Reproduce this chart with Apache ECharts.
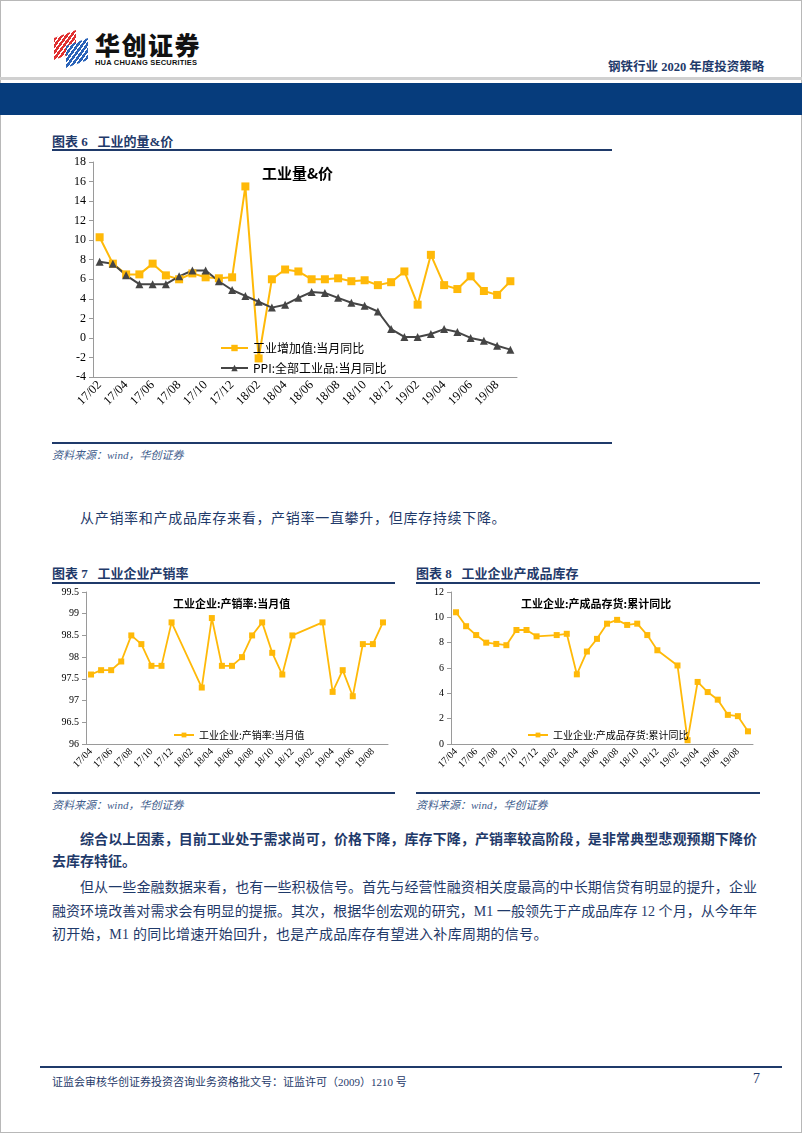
<!DOCTYPE html>
<html><head><meta charset="utf-8">
<script src="https://cdn.jsdelivr.net/npm/echarts/dist/echarts.min.js"></script>
<style>
body{margin:0;width:802px;height:1133px;position:relative;background:#fff;overflow:hidden;font-family:"Liberation Serif","Noto Sans CJK SC",serif;color:#1F3A6A;}
.abs{position:absolute;white-space:nowrap;}
.hline{position:absolute;height:2px;background:#1F3A6A;}
.cap{font-weight:bold;font-size:13px;}
.src{font-style:italic;font-size:11px;color:#3E5C8C;}
.p{font-size:14px;}
.just{text-align:justify;text-align-last:justify;}
</style></head>
<body>
<div style="position:absolute;left:0;top:0;width:800px;height:1131px;border:1px solid #b8b8b8;"></div>
<!-- logo -->
<div style="position:absolute;left:54px;top:34px;width:22px;height:22px;background:repeating-linear-gradient(135deg,#E03030 0 3px,#fff 3px 4.5px);transform:skewY(-20deg);"></div>
<div style="position:absolute;left:66px;top:42px;width:22px;height:22px;background:repeating-linear-gradient(135deg,#2A63B8 0 3px,#fff 3px 4.5px);transform:skewY(-20deg);"></div>
<div class="abs" style="left:95px;top:32px;line-height:1;font-family:'Noto Sans CJK SC';font-weight:900;font-size:25px;color:#111;letter-spacing:1.5px;">华创证券</div>
<div class="abs" style="left:95px;top:59px;line-height:1;font-family:'Liberation Sans';font-weight:bold;font-size:7.5px;color:#111;letter-spacing:0.2px;">HUA CHUANG SECURITIES</div>
<div class="abs" style="left:608px;top:56px;font-weight:bold;font-size:12.5px;color:#1F3A6A;">钢铁行业 2020 年度投资策略</div>
<div style="position:absolute;left:0;top:77px;width:802px;height:3px;background:#d0d0d0;"></div>
<div style="position:absolute;left:0;top:83px;width:802px;height:32px;background:#063C7C;"></div>

<!-- chart 6 -->
<div class="abs cap" style="left:52px;top:131px;">图表 6&nbsp;&nbsp;&nbsp;工业的量&amp;价</div>
<div class="hline" style="left:52px;top:149px;width:560px;"></div>
<div id="c1" style="position:absolute;left:40px;top:151px;width:580px;height:290px;"></div>
<div class="hline" style="left:52px;top:442px;width:560px;"></div>
<div class="abs src" style="left:52px;top:446px;">资料来源：wind，华创证券</div>

<div class="abs p" style="left:80px;top:507px;letter-spacing:0.7px;">从产销率和产成品库存来看，产销率一直攀升，但库存持续下降。</div>

<div class="abs cap" style="left:52px;top:563px;">图表 7&nbsp;&nbsp;&nbsp;工业企业产销率</div>
<div class="hline" style="left:52px;top:582px;width:343px;"></div>
<div class="abs cap" style="left:416px;top:563px;">图表 8&nbsp;&nbsp;&nbsp;工业企业产成品库存</div>
<div class="hline" style="left:416px;top:582px;width:344px;"></div>
<div id="c2" style="position:absolute;left:40px;top:584px;width:360px;height:205px;"></div>
<div id="c3" style="position:absolute;left:405px;top:584px;width:370px;height:205px;"></div>
<div class="hline" style="left:52px;top:792px;width:343px;"></div>
<div class="hline" style="left:416px;top:792px;width:344px;"></div>
<div class="abs src" style="left:52px;top:796px;">资料来源：wind，华创证券</div>
<div class="abs src" style="left:416px;top:796px;">资料来源：wind，华创证券</div>

<div class="abs p just" style="left:80px;top:828px;width:677px;font-weight:bold;">综合以上因素，目前工业处于需求尚可，价格下降，库存下降，产销率较高阶段，是非常典型悲观预期下降价</div>
<div class="abs p" style="left:52px;top:850px;font-weight:bold;">去库存特征。</div>
<div class="abs p just" style="left:80px;top:876px;width:677px;">但从一些金融数据来看，也有一些积极信号。首先与经营性融资相关度最高的中长期信贷有明显的提升，企业</div>
<div class="abs p just" style="left:52px;top:900px;width:705px;">融资环境改善对需求会有明显的提振。其次，根据华创宏观的研究，M1 一般领先于产成品库存 12 个月，从今年年</div>
<div class="abs p" style="left:52px;top:923px;letter-spacing:0.3px;">初开始，M1 的同比增速开始回升，也是产成品库存有望进入补库周期的信号。</div>

<div style="position:absolute;left:40px;top:1066px;width:742px;height:2px;background:#1F3A6A;"></div>
<div class="abs" style="left:52px;top:1073px;font-size:11px;color:#1F3A6A;">证监会审核华创证券投资咨询业务资格批文号：证监许可（2009）1210 号</div>
<div class="abs" style="left:753px;top:1071px;font-size:14px;color:#1F3A6A;">7</div>

<script>
// ---------- data ----------
const monthsC1 = ['17/02','17/03','17/04','17/05','17/06','17/07','17/08','17/09','17/10','17/11','17/12',
  '18/01','18/02','18/03','18/04','18/05','18/06','18/07','18/08','18/09','18/10','18/11','18/12',
  '19/01','19/02','19/03','19/04','19/05','19/06','19/07','19/08','19/09'];
const valueAddedYoY = [10.3,7.6,6.5,6.5,7.6,6.4,6.0,6.6,6.2,6.1,6.2,
  15.5,-2.1,6.0,7.0,6.8,6.0,6.0,6.1,5.8,5.9,5.4,5.7,
  6.8,3.4,8.5,5.4,5.0,6.3,4.8,4.4,5.8];
const ppiYoY = [7.8,7.6,6.4,5.5,5.5,5.5,6.3,6.9,6.9,5.8,4.9,
  4.3,3.7,3.1,3.4,4.1,4.7,4.6,4.1,3.6,3.3,2.7,0.9,
  0.1,0.1,0.4,0.9,0.6,0.0,-0.3,-0.8,-1.2];
const monthsC23 = ['17/04','17/05','17/06','17/07','17/08','17/09','17/10','17/11','17/12',
  '18/01','18/02','18/03','18/04','18/05','18/06','18/07','18/08','18/09','18/10','18/11','18/12',
  '19/01','19/02','19/03','19/04','19/05','19/06','19/07','19/08','19/09'];
const salesRatio = [97.6,97.7,97.7,97.9,98.5,98.3,97.8,97.8,98.8,
  null,null,97.3,98.9,97.8,97.8,98.0,98.5,98.8,98.1,97.6,98.5,
  null,null,98.8,97.2,97.7,97.1,98.3,98.3,98.8];
const inventoryYoY = [10.4,9.3,8.6,8.0,7.9,7.8,9.0,9.0,8.5,
  null,8.6,8.7,5.5,7.3,8.3,9.5,9.8,9.4,9.5,8.6,7.4,
  null,6.2,0.3,4.9,4.1,3.5,2.3,2.2,1.0];
const names = {
  c1Title:'工业量&价', va:'工业增加值:当月同比', ppi:'PPI:全部工业品:当月同比',
  c2:'工业企业:产销率:当月值', c3:'工业企业:产成品存货:累计同比'
};

const YEL = '#FFB908', DARK = '#454545', AX = '#9a9a9a';
const serif = 'Liberation Serif', sans = 'Noto Sans CJK SC';

function xAxis(cats, fs){
  return {type:'category', data:cats, boundaryGap:true,
    axisLine:{onZero:false, lineStyle:{color:AX}},
    axisTick:{interval:1, lineStyle:{color:AX}, length:4},
    axisLabel:{interval:1, rotate:45, fontFamily:serif, fontSize:fs, color:'#000', margin:6}};
}
function yAxis(min,max,iv,fs){
  return {type:'value', min:min, max:max, interval:iv,
    axisLine:{show:true, lineStyle:{color:AX}},
    axisTick:{show:true, lineStyle:{color:AX}, length:4},
    splitLine:{show:false},
    axisLabel:{fontFamily:serif, fontSize:fs, color:'#000', margin:7}};
}

const c1 = echarts.init(document.getElementById('c1'));
c1.setOption({
  animation:false,
  title:{text:names.c1Title, left:217, top:10, textStyle:{fontFamily:sans, fontSize:15, fontWeight:'bold', color:'#000'}},
  grid:{left:53, top:11, width:424, height:215, containLabel:false, outerBoundsMode:'none'},
  legend:{orient:'vertical', left:175, top:186, itemWidth:27, itemHeight:8, itemGap:8,
    textStyle:{fontFamily:sans, fontSize:12, color:'#000'},
    data:[names.va, names.ppi]},
  xAxis:xAxis(monthsC1, 12.5),
  yAxis:yAxis(-4,18,2,12),
  series:[
    {name:names.va, type:'line', data:valueAddedYoY, symbol:'rect', symbolSize:8,
      lineStyle:{color:YEL, width:2}, itemStyle:{color:YEL}},
    {name:names.ppi, type:'line', data:ppiYoY, symbol:'triangle', symbolSize:8,
      lineStyle:{color:DARK, width:2}, itemStyle:{color:DARK}}
  ]
});

function small(id, title, tLeft, lLeft, data, min, max, iv){
  const c = echarts.init(document.getElementById(id));
  c.setOption({
    animation:false,
    title:{text:title, left:tLeft, top:9, textStyle:{fontFamily:sans, fontSize:11, fontWeight:'bold', color:'#000'}},
    grid:{left:46, top:8, width:302, height:152, containLabel:false, outerBoundsMode:'none'},
    legend:{left:lLeft, top:141, itemWidth:20, itemHeight:6,
      textStyle:{fontFamily:sans, fontSize:10, color:'#000'}, data:[title]},
    xAxis:xAxis(monthsC23, 10),
    yAxis:yAxis(min,max,iv,10),
    series:[{name:title, type:'line', data:data, connectNulls:true, symbol:'rect', symbolSize:6,
      lineStyle:{color:YEL, width:1.8}, itemStyle:{color:YEL}}]
  });
}
small('c2', names.c2, 128, 128, salesRatio, 96, 99.5, 0.5);
small('c3', names.c3, 111, 117, inventoryYoY, 0, 12, 2);
</script>
</body></html>
